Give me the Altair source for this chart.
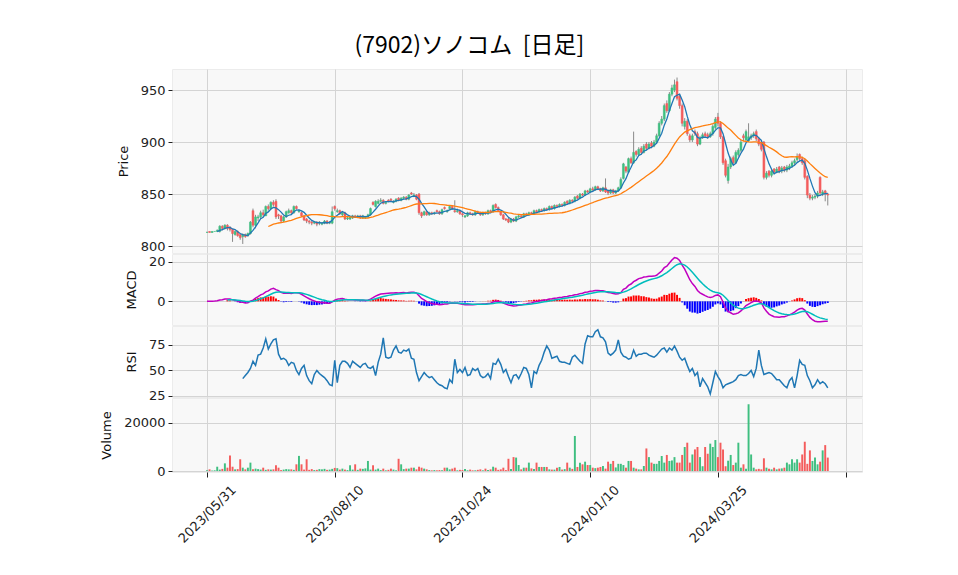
import altair as alt
import pandas as pd
import numpy as np

TITLE = "(7902)ソノコム\u00a0\u00a0[日足]"
tick_pos = [0, 50, 100, 150, 200, 250]
tick_labels = ["2023/05/31", "2023/08/10", "2023/10/24", "2024/01/10", "2024/03/25", ""]

closes = [
    813, 813, 814, 814, 815, 819, 817, 820, 817, 816, 812, 814, 810, 808, 811, 809, 812, 823, 820, 828,
    828, 832, 830, 838, 836, 842, 840, 828, 829, 824, 828, 833, 834, 832, 838, 836, 834, 829, 825, 824,
    823, 822, 823, 821, 823, 822, 824, 822, 823, 833, 836, 834, 831, 832, 826, 827, 828, 829, 828, 829,
    827, 829, 828, 830, 836, 840, 843, 843, 844, 841, 842, 843, 844, 843, 845, 844, 846, 847, 845, 849,
    850, 849, 845, 832, 829, 833, 830, 832, 831, 832, 833, 831, 835, 836, 834, 838, 836, 833, 834, 831,
    830, 829, 832, 831, 830, 833, 832, 830, 832, 831, 834, 833, 839, 837, 834, 830, 826, 825, 823, 826,
    824, 828, 829, 828, 831, 830, 832, 831, 834, 833, 835, 834, 836, 835, 838, 836, 839, 838, 840, 839,
    842, 841, 844, 843, 847, 846, 850, 849, 853, 852, 855, 854, 857, 855, 853, 856, 852, 851, 854, 851,
    853, 856, 864, 879, 872, 884, 880, 890, 888, 893, 890, 896, 894, 898, 896, 900, 906, 918, 922, 935,
    930, 946, 952, 955, 942, 935, 918, 920, 908, 902, 906, 908, 898, 904, 907, 906, 905, 908, 915, 922,
    918, 905, 880, 868, 876, 884, 880, 890, 892, 900, 904, 910, 905, 906, 908, 903, 898, 893, 866, 870,
    868, 872, 871, 874, 872, 875, 873, 876, 877, 880, 882, 886, 884, 880, 866, 849, 846, 847, 848, 851,
    851, 852, 850, 849,
]
opens = [
    813, 814, 813, 814, 814, 814, 819, 817, 820, 818, 816, 811, 814, 811, 809, 811, 810, 812, 834, 820,
    827, 828, 832, 829, 838, 836, 842, 843, 830, 829, 824, 828, 832, 834, 832, 838, 833, 832, 829, 826,
    824, 823, 822, 823, 822, 821, 822, 824, 822, 822, 838, 833, 834, 830, 832, 826, 826, 827, 829, 828,
    829, 827, 827, 828, 830, 842, 838, 841, 843, 844, 841, 844, 845, 842, 843, 846, 844, 846, 847, 845,
    851, 848, 849, 850, 832, 830, 833, 830, 832, 831, 834, 833, 831, 837, 833, 836, 838, 834, 833, 834,
    831, 828, 829, 832, 831, 830, 833, 832, 830, 832, 831, 834, 833, 840, 837, 833, 830, 826, 826, 823,
    826, 824, 828, 829, 828, 831, 830, 832, 831, 834, 833, 835, 834, 836, 835, 838, 836, 839, 838, 840,
    839, 843, 841, 844, 843, 848, 846, 850, 849, 853, 852, 855, 854, 857, 855, 853, 856, 853, 851, 854,
    851, 853, 856, 865, 876, 871, 884, 880, 891, 888, 894, 890, 898, 894, 899, 896, 900, 906, 918, 922,
    937, 930, 946, 950, 958, 944, 935, 915, 920, 906, 902, 910, 908, 898, 904, 908, 907, 905, 908, 914,
    924, 918, 905, 882, 863, 876, 885, 880, 888, 892, 906, 902, 901, 904, 906, 910, 903, 900, 900, 866,
    872, 868, 874, 871, 876, 872, 876, 873, 875, 877, 880, 883, 888, 884, 882, 867, 849, 846, 847, 848,
    866, 850, 853, 850,
]
highs = [
    814, 814, 814, 814, 816, 820, 820, 821, 821, 819, 816, 815, 815, 812, 812, 812, 813, 824, 836, 830,
    830, 834, 835, 839, 840, 843, 844, 845, 831, 830, 829, 834, 836, 835, 839, 839, 835, 833, 830, 827,
    825, 824, 824, 824, 824, 823, 825, 825, 824, 838, 839, 836, 835, 833, 833, 828, 829, 830, 830, 830,
    830, 830, 829, 831, 837, 843, 844, 845, 846, 845, 843, 845, 846, 844, 846, 847, 847, 848, 848, 850,
    852, 851, 850, 851, 833, 834, 834, 833, 833, 833, 835, 834, 836, 838, 835, 839, 839, 844, 836, 835,
    832, 830, 833, 833, 832, 834, 834, 833, 833, 833, 835, 835, 840, 841, 838, 834, 831, 827, 827, 827,
    827, 829, 830, 830, 832, 832, 833, 833, 835, 835, 836, 836, 837, 837, 839, 839, 840, 840, 841, 841,
    843, 844, 845, 845, 848, 849, 851, 851, 854, 854, 856, 857, 858, 858, 856, 857, 865, 854, 855, 855,
    854, 857, 866, 880, 877, 885, 886, 910, 892, 895, 896, 898, 900, 900, 901, 902, 908, 920, 925, 937,
    940, 948, 955, 960, 962, 946, 937, 923, 922, 908, 908, 912, 910, 906, 909, 910, 909, 910, 917, 924,
    928, 920, 906, 884, 879, 886, 887, 892, 894, 902, 908, 912, 918, 908, 910, 912, 905, 902, 901, 872,
    873, 874, 875, 876, 877, 877, 877, 878, 879, 882, 884, 889, 889, 886, 884, 868, 851, 849, 850, 853,
    867, 854, 854, 851,
]
lows = [
    813, 813, 813, 814, 814, 813, 815, 816, 815, 814, 804, 810, 809, 806, 802, 808, 809, 811, 818, 817,
    824, 826, 828, 829, 834, 835, 838, 826, 826, 822, 823, 827, 831, 830, 831, 835, 832, 828, 824, 822,
    821, 820, 821, 819, 820, 820, 821, 821, 821, 821, 834, 832, 830, 828, 825, 825, 825, 826, 827, 827,
    826, 826, 826, 827, 829, 839, 837, 840, 842, 840, 840, 842, 843, 841, 842, 843, 843, 845, 844, 844,
    849, 847, 844, 830, 827, 829, 829, 829, 830, 830, 832, 830, 830, 835, 832, 835, 835, 832, 832, 830,
    828, 827, 828, 830, 829, 829, 831, 829, 829, 830, 830, 832, 832, 836, 833, 829, 825, 824, 822, 822,
    823, 823, 827, 827, 827, 829, 829, 830, 830, 832, 832, 833, 833, 834, 834, 835, 835, 837, 837, 838,
    838, 840, 840, 842, 842, 845, 845, 848, 848, 851, 851, 853, 853, 854, 852, 852, 851, 849, 850, 850,
    850, 852, 855, 864, 870, 870, 879, 879, 886, 887, 888, 889, 892, 893, 894, 895, 899, 905, 916, 920,
    928, 929, 944, 948, 940, 932, 915, 912, 906, 900, 900, 906, 896, 897, 903, 904, 903, 904, 906, 912,
    915, 903, 878, 866, 860, 874, 878, 879, 886, 890, 901, 900, 900, 902, 904, 901, 896, 891, 864, 864,
    866, 866, 869, 870, 870, 870, 871, 871, 873, 875, 878, 881, 882, 878, 864, 846, 844, 844, 845, 846,
    849, 848, 843, 839,
]
volumes = [
    300, 700, 200, 300, 1800, 600, 900, 3200, 1400, 6500, 1800, 700, 800, 4900, 1400, 700, 1400, 3500, 700, 1000,
    800, 600, 1400, 500, 700, 600, 700, 2400, 1400, 400, 600, 800, 700, 700, 500, 2800, 6300, 2800, 600, 4900,
    500, 800, 400, 500, 800, 700, 900, 500, 600, 900, 1300, 1200, 600, 1000, 600, 400, 2400, 600, 2800, 500,
    1000, 900, 1100, 4200, 600, 2400, 600, 1000, 400, 1000, 300, 500, 1000, 600, 300, 5100, 2800, 800, 1000, 1000,
    1400, 1400, 700, 1800, 1400, 1000, 700, 400, 300, 400, 300, 400, 300, 1400, 1400, 700, 1000, 1400, 300, 500,
    400, 800, 300, 600, 300, 300, 500, 700, 300, 1000, 400, 700, 1800, 1400, 500, 700, 1400, 400, 5100, 800,
    5800, 5600, 2500, 700, 1400, 1400, 3500, 1100, 800, 3500, 1700, 1700, 1700, 1700, 700, 600, 600, 1400, 1700, 600,
    800, 3500, 1400, 900, 14600, 1700, 3500, 2800, 3900, 2500, 2500, 1400, 1200, 1400, 1700, 2100, 1000, 3900, 3000, 4200,
    1500, 3000, 3000, 2500, 1400, 4200, 4200, 1400, 1000, 700, 700, 2100, 9400, 5800, 3500, 3000, 3000, 4200, 6250, 3500,
    6700, 4200, 4400, 5800, 3500, 3500, 6700, 10000, 11800, 3500, 6900, 9000, 10000, 5800, 2000, 10000, 7200, 11400, 10000, 12900,
    5800, 11800, 9000, 2000, 4300, 6700, 2500, 3500, 11800, 1400, 2800, 1000, 27800, 6900, 1400, 700, 900, 700, 5300, 1400,
    1000, 700, 1400, 700, 1000, 1100, 1400, 3500, 2800, 4900, 3500, 4900, 3500, 6900, 12200, 3000, 8600, 4200, 5600, 2800,
    3900, 8600, 10800, 5600,
]
# RSI(14) (no value for the first 14 sessions)
rsi_vals = [None] * 14 + [
    42, 45, 48, 52, 59, 55, 65, 66, 72, 81, 71, 76, 80, 81, 66, 61, 62, 60, 55, 58,
    57, 50, 46, 52, 55, 45, 40, 37, 46, 50, 47, 45, 43, 40, 36, 35, 60, 38, 55, 59,
    59, 57, 53, 59, 57, 55, 53, 56, 57, 53, 52, 54, 45, 58, 66, 82, 63, 62, 63, 70,
    74, 68, 67, 70, 69, 71, 62, 61, 48, 40, 44, 48, 45, 43, 44, 41, 38, 36, 35, 33,
    32, 41, 38, 61, 48, 51, 48, 53, 45, 46, 52, 50, 52, 45, 43, 44, 47, 42, 57, 56,
    61, 56, 48, 51, 44, 38, 45, 46, 42, 47, 53, 52, 46, 33, 49, 47, 55, 60, 68, 74,
    70, 62, 63, 64, 59, 58, 58, 57, 56, 63, 65, 62, 59, 57, 76, 84, 83, 83, 88, 90,
    83, 82, 78, 67, 65, 67, 70, 80, 68, 64, 63, 61, 62, 70, 64, 66, 66, 67, 67, 65,
    64, 63, 65, 68, 71, 72, 68, 72, 70, 74, 69, 63, 60, 62, 55, 49, 52, 45, 48, 34,
    42, 38, 34, 27, 38, 49, 44, 40, 33, 36, 37, 38, 39, 41, 45, 46, 45, 45, 47, 50,
    44, 52, 70, 55, 46, 47, 48, 47, 44, 41, 41, 38, 35, 33, 40, 43, 33, 45, 60, 56,
    55, 45, 40, 33, 36, 41, 37, 39, 37, 33,
]

UP = "#3fbf80"
DOWN = "#f45c5c"
WICK = "#8a8a8a"
MA5_C = "#1f77b4"
MA25_C = "#ff7f0e"
MACD_C = "#c000c0"
SIG_C = "#00bdbd"
FONT = "DejaVu Sans"

n = len(closes)
df = pd.DataFrame({"i": list(range(n)), "open": opens, "high": highs, "low": lows,
                   "close": closes, "volume": volumes, "rsi": rsi_vals})
df["ma5"] = df["close"].rolling(5).mean()
df["ma25"] = df["close"].rolling(25).mean()
ema12 = df["close"].ewm(span=12, adjust=False).mean()
ema26 = df["close"].ewm(span=26, adjust=False).mean()
df["macd"] = ema12 - ema26
df["signal"] = df["macd"].ewm(span=9, adjust=False, min_periods=9).mean()
df["hist"] = df["macd"] - df["signal"]
df["xl"] = df["i"] - 0.38
df["xr"] = df["i"] + 0.38
df["zero"] = 0.0

W = 690
xscale = alt.Scale(domain=[-13.7, 256.4], nice=False, zero=False)
x_plain = alt.Axis(values=tick_pos, labels=False, ticks=False, domain=False, title=None, grid=True)
expr = "".join(f"datum.value == {p} ? '{l}' : " for p, l in zip(tick_pos, tick_labels)) + "''"
x_bottom = alt.Axis(values=tick_pos, labelExpr=expr, labelAngle=-45, labelAlign="center",
                    labelBaseline="middle", labelPadding=37, tickSize=5, domain=False, title=None,
                    grid=True, labelFontSize=13)
dir_color = alt.condition("datum.close >= datum.open", alt.value(UP), alt.value(DOWN))

def yax(vals, title, fmt=None):
    kw = dict(values=vals, title=title, grid=True, domain=False, tickSize=4, titlePadding=10)
    if fmt:
        kw["format"] = fmt
    return alt.Axis(**kw)

base = alt.Chart(df)

# Price panel
py = alt.Scale(domain=[793.3, 970.2], nice=False, zero=False)
pax = yax([800, 850, 900, 950], "Price")
wick = base.mark_rule(color=WICK, strokeWidth=1).encode(
    x=alt.X("i:Q", scale=xscale, axis=x_plain),
    y=alt.Y("low:Q", scale=py, axis=pax), y2="high:Q")
body = base.mark_rect(strokeWidth=0.5).encode(
    x=alt.X("xl:Q", scale=xscale, axis=x_plain), x2="xr:Q",
    y=alt.Y("open:Q", scale=py, axis=pax), y2="close:Q",
    color=dir_color, stroke=dir_color)
ma5 = base.mark_line(color=MA5_C, strokeWidth=1.3).encode(
    x=alt.X("i:Q", scale=xscale, axis=x_plain), y=alt.Y("ma5:Q", scale=py, axis=pax))
ma25 = base.mark_line(color=MA25_C, strokeWidth=1.3).encode(
    x=alt.X("i:Q", scale=xscale, axis=x_plain), y=alt.Y("ma25:Q", scale=py, axis=pax))
price = alt.layer(wick, body, ma5, ma25).properties(width=W, height=184)

# MACD panel
my = alt.Scale(domain=[-12, 24], nice=False, zero=False)
max_ = yax([0, 20], "MACD")
hist = base.mark_rect().encode(
    x=alt.X("xl:Q", scale=xscale, axis=x_plain), x2="xr:Q",
    y=alt.Y("zero:Q", scale=my, axis=max_), y2="hist:Q",
    color=alt.condition("datum.hist >= 0", alt.value("#ff0000"), alt.value("#0000ff")))
macd_l = base.mark_line(color=MACD_C, strokeWidth=1.5).encode(
    x=alt.X("i:Q", scale=xscale, axis=x_plain), y=alt.Y("macd:Q", scale=my, axis=max_))
sig_l = base.mark_line(color=SIG_C, strokeWidth=1.5).encode(
    x=alt.X("i:Q", scale=xscale, axis=x_plain), y=alt.Y("signal:Q", scale=my, axis=max_))
macd = alt.layer(hist, macd_l, sig_l).properties(width=W, height=71)

# RSI panel
ry = alt.Scale(domain=[24, 93.6], nice=False, zero=False)
rsi = base.mark_line(color=MA5_C, strokeWidth=1.5).encode(
    x=alt.X("i:Q", scale=xscale, axis=x_plain),
    y=alt.Y("rsi:Q", scale=ry, axis=yax([25, 50, 75], "RSI"))).properties(width=W, height=71)

# Volume panel
vy = alt.Scale(domain=[-400, 30400], nice=False, zero=False)
vol = base.mark_rect().encode(
    x=alt.X("xl:Q", scale=xscale, axis=x_bottom), x2="xr:Q",
    y=alt.Y("zero:Q", scale=vy, axis=yax([0, 20000], "Volume", "d")), y2="volume:Q",
    color=dir_color).properties(width=W, height=74)

chart = alt.vconcat(price, macd, rsi, vol, spacing=1, bounds="flush").properties(
    title=alt.TitleParams(TITLE, fontSize=23, font="Noto Sans CJK JP", fontWeight="normal",
                          anchor="middle", dx=-12, offset=11, color="#000000"),
    padding={"left": 92, "top": 26, "right": 10, "bottom": 10},
    background="white",
).configure_view(fill="#f8f8f8", stroke="#ececec").configure_axis(
    labelFont=FONT, labelFontSize=13, labelColor="#222222", titleFont=FONT, titleFontSize=13,
    titleFontWeight="normal", titleColor="#111111", gridColor="#d4d4d4", gridWidth=1,
    tickColor="#222222", labelPadding=3
)

chart.save("out.html", embed_options={"renderer": "svg", "actions": False})
